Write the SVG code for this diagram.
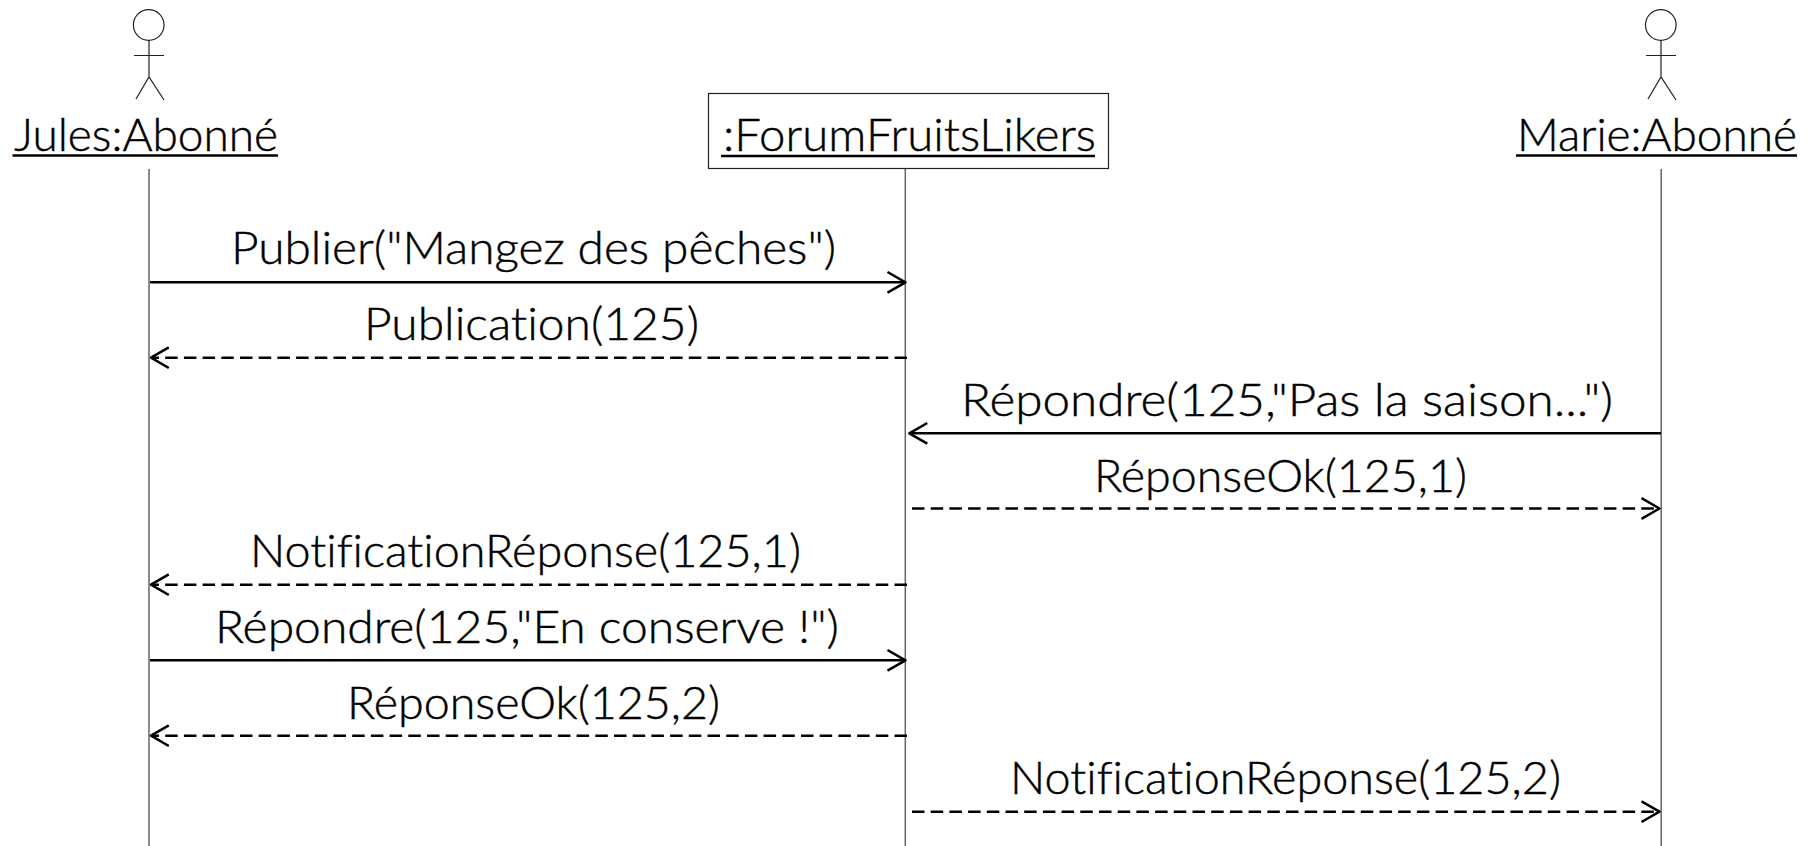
<svg xmlns="http://www.w3.org/2000/svg" width="1819" height="846" viewBox="0 0 1819 846">
<style>
text{font-family:"Lato","Open Sans","Liberation Sans",sans-serif;font-weight:300;font-size:46px;fill:#000;stroke:#000;stroke-width:.45;font-variant-ligatures:none}
.a{fill:none;stroke:#222;stroke-width:1.2}
.life{stroke:#666;stroke-width:1.5}
.solid{stroke:#000;stroke-width:2.5;fill:none}
.dash{stroke:#000;stroke-width:2.4;fill:none;stroke-dasharray:12.500 6.200}
.u{stroke:#000;stroke-width:2.4}
.h{stroke:#000;stroke-width:2.5;fill:none;stroke-linejoin:round}
</style>
<rect width="1819" height="846" fill="#fff"/>
<g id="connectors">
<line class="life" x1="149" y1="169" x2="149" y2="846"/>
<line class="life" x1="905.300" y1="169" x2="905.300" y2="846"/>
<line class="life" x1="1661.200" y1="169" x2="1661.200" y2="846"/>
<path class="solid" d="M150 282.300H905"/><path class="h" d="M887.500 272L905.500 282.300L887.500 292.600"/>
<path class="dash" d="M907 357.700H152"/><path class="h" d="M168.800 347.400L151 357.700L168.800 368"/>
<path class="solid" d="M1661 433.300H910"/><path class="h" d="M927.300 423L909.300 433.300L927.300 443.600"/>
<path class="dash" d="M912 508.500H1659"/><path class="h" d="M1641.500 498.200L1659.500 508.500L1641.500 518.800"/>
<path class="dash" d="M907 584.700H152"/><path class="h" d="M168.800 574.400L151 584.700L168.800 595"/>
<path class="solid" d="M150 660.300H905"/><path class="h" d="M887.500 650L905.500 660.300L887.500 670.600"/>
<path class="dash" d="M907 735.700H152"/><path class="h" d="M168.800 725.400L151 735.700L168.800 746"/>
<path class="dash" d="M912 811.700H1659"/><path class="h" d="M1641.500 801.400L1659.500 811.700L1641.500 822"/>
</g>
<g id="jules">
<circle class="a" cx="148.700" cy="25" r="15.300"/><path class="a" d="M149 40V77M134 55.500H164M136 99L149 77L164 100"/>
<text x="14" y="151" textLength="264" lengthAdjust="spacingAndGlyphs">Jules:Abonné</text><line class="u" x1="12.500" y1="155.500" x2="278" y2="155.500"/>
</g>
<g id="forum">
<rect x="708.500" y="93.500" width="400" height="75" fill="#fff" stroke="#222" stroke-width="1.200"/>
<text x="723" y="151" textLength="373" lengthAdjust="spacingAndGlyphs">:ForumFruitsLikers</text><line class="u" x1="721" y1="156" x2="1095" y2="156"/>
</g>
<g id="marie">
<circle class="a" cx="1660.800" cy="25" r="15.300"/><path class="a" d="M1661 40V77M1646 55.500H1676M1648 99L1661 77L1676 100"/>
<text x="1517" y="151" textLength="280" lengthAdjust="spacingAndGlyphs">Marie:Abonné</text><line class="u" x1="1516" y1="155.500" x2="1797" y2="155.500"/>
</g>
<g id="labels">
<text x="231" y="264" textLength="605" lengthAdjust="spacingAndGlyphs">Publier("Mangez des pêches")</text>
<text x="364" y="340" textLength="335" lengthAdjust="spacingAndGlyphs">Publication(125)</text>
<text x="961" y="416" textLength="652" lengthAdjust="spacingAndGlyphs">Répondre(125,"Pas la saison...")</text>
<text x="1094" y="492" textLength="373" lengthAdjust="spacingAndGlyphs">RéponseOk(125,1)</text>
<text x="250" y="567" textLength="551" lengthAdjust="spacingAndGlyphs">NotificationRéponse(125,1)</text>
<text x="215" y="643" textLength="624" lengthAdjust="spacingAndGlyphs">Répondre(125,"En conserve !")</text>
<text x="347" y="719" textLength="373" lengthAdjust="spacingAndGlyphs">RéponseOk(125,2)</text>
<text x="1010" y="794" textLength="551" lengthAdjust="spacingAndGlyphs">NotificationRéponse(125,2)</text>
</g>
</svg>
